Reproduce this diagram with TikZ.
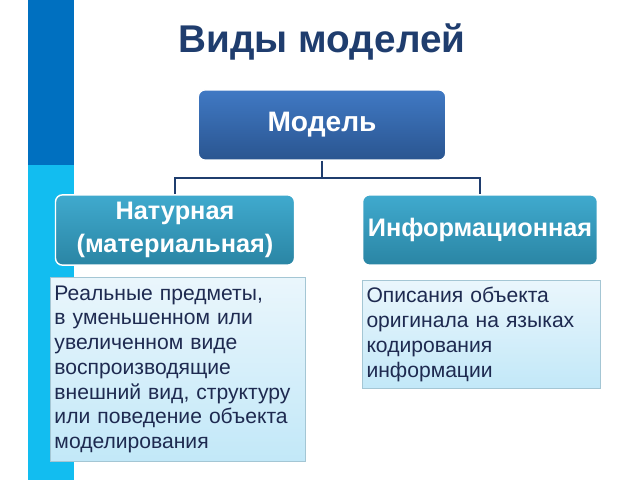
\documentclass[tikz,border=0pt]{standalone}
\usepackage{fontspec}
\setmainfont{Liberation Sans}
\definecolor{stripedark}{HTML}{0070C0}
\definecolor{stripelight}{HTML}{12BDF0}
\definecolor{titleblue}{HTML}{1F3D6E}
\definecolor{textdark}{HTML}{1E2A50}
\definecolor{modeltop}{HTML}{4079C4}
\definecolor{modelbot}{HTML}{2A5590}
\definecolor{kindtop}{HTML}{40AACE}
\definecolor{kindbot}{HTML}{2A85A4}
\definecolor{notetop}{HTML}{EAF6FC}
\definecolor{notebot}{HTML}{C2E8F8}
\begin{document}
\begin{tikzpicture}[x=0.025cm, y=-0.025cm,
    kindbox/.style={rounded corners=5pt, top color=kindtop, bottom color=kindbot, draw=white, line width=1pt, text=white, font=\bfseries\fontsize{18}{23}\selectfont, align=center, minimum height=50pt},
    notebox/.style={top color=notetop, bottom color=notebot, draw=gray!60!cyan!60, text=textdark, font=\fontsize{15}{17.6}\selectfont, align=left, anchor=north west, inner sep=3pt},
    link/.style={draw=titleblue, line width=0.8pt}]
  \useasboundingbox (0,0) rectangle (640,480);
  \fill[stripedark] (28,0) rectangle (74,165);
  \fill[stripelight] (28,165) rectangle (74,480);
  \node[text=titleblue, font=\bfseries\fontsize{27.5}{32}\selectfont] (title) at (322,42) {Виды моделей};
  \node[rounded corners=5pt, top color=modeltop, bottom color=modelbot, draw=white, line width=1pt, text=white, font=\bfseries\fontsize{20}{24}\selectfont, minimum width=176pt, minimum height=50pt] (model) at (322,125) {Модель};
  \node[kindbox, minimum width=170pt] (nat) at (175,230) {Натурная\\(материальная)};
  \node[kindbox, minimum width=167pt] (inf) at (480,230) {Информационная};
  \coordinate (mid) at (322,178);
  \draw[link] (model.south) -- (mid);
  \draw[link] (nat.north) |- (mid) -| (inf.north);
  \node[notebox, minimum width=181pt, minimum height=131pt, text width=175pt] (natnote) at (50,277) {Реальные предметы,\\в уменьшенном или\\увеличенном виде\\воспроизводящие\\внешний вид, структуру\\или поведение объекта\\моделирования};
  \node[notebox, minimum width=169pt, minimum height=77pt, text width=163pt] (infnote) at (362,280) {Описания объекта\\оригинала на языках\\кодирования\\информации};
\end{tikzpicture}
\end{document}
